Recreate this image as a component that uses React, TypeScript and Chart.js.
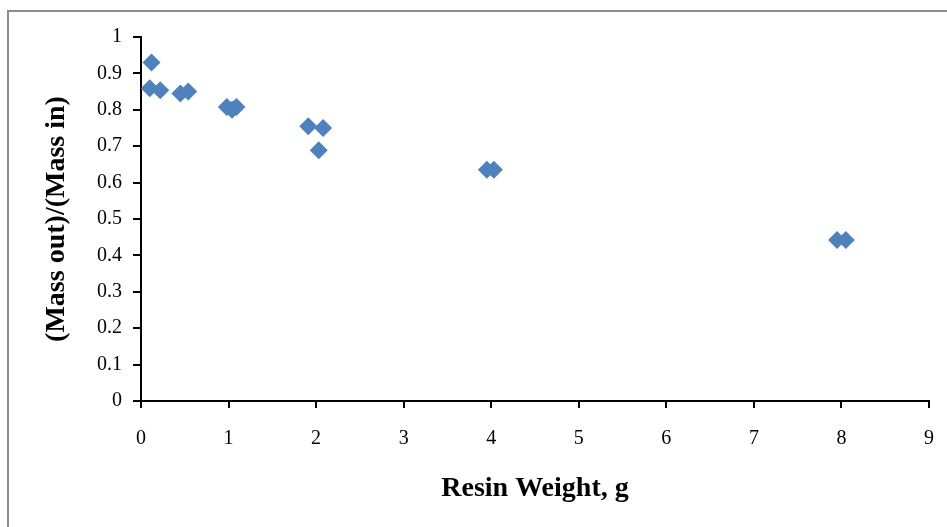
import React, { useEffect, useRef } from "react";
import { Chart, registerables } from "chart.js";

Chart.register(...registerables);

const resinWeight = [0.12, 0.1, 0.22, 0.45, 0.54, 0.98, 1.09, 1.04, 1.91, 2.08, 2.03, 3.95, 4.03, 7.95, 8.05];
const massRatio = [0.93, 0.859, 0.854, 0.845, 0.85, 0.808, 0.808, 0.8, 0.755, 0.75, 0.689, 0.635, 0.635, 0.442, 0.442];
const xTickLabels = ["0", "1", "2", "3", "4", "5", "6", "7", "8", "9"];
const yTickLabels = ["0", "0.1", "0.2", "0.3", "0.4", "0.5", "0.6", "0.7", "0.8", "0.9", "1"];
const xTitle = "Resin Weight, g";
const yTitle = "(Mass out)/(Mass in)";

const W = 947;
const H = 527;
const FONT = "'Liberation Serif', 'Times New Roman', serif";

const framePlugin = {
  id: "frame",
  beforeDraw(chart: any) {
    const ctx = chart.ctx;
    ctx.save();
    ctx.fillStyle = "#ffffff";
    ctx.fillRect(0, 0, chart.width, chart.height);
    ctx.strokeStyle = "#8c8c8c";
    ctx.lineWidth = 2;
    ctx.beginPath();
    ctx.moveTo(8, chart.height);
    ctx.lineTo(8, 11);
    ctx.lineTo(chart.width, 11);
    ctx.stroke();
    ctx.restore();
  },
};

export default function App() {
  const ref = useRef<HTMLCanvasElement | null>(null);
  useEffect(() => {
    if (!ref.current) return;
    const chart = new Chart(ref.current, {
      type: "scatter",
      data: {
        datasets: [
          {
            data: resinWeight.map((x, i) => ({ x, y: massRatio[i] })),
            pointStyle: "rectRot",
            pointRadius: 9,
            pointHoverRadius: 9,
            backgroundColor: "#4F81BD",
            borderColor: "#4F81BD",
            borderWidth: 0,
          },
        ],
      },
      options: {
        responsive: false,
        animation: false,
        layout: { padding: { top: 37, right: 18, left: 0, bottom: 0 } },
        plugins: { legend: { display: false }, tooltip: { enabled: false } },
        scales: {
          x: {
            type: "linear",
            min: 0,
            max: 9,
            afterFit: (axis: any) => {
              axis.height = H - 401;
              axis.paddingLeft = 0;
              axis.paddingRight = 0;
            },
            ticks: {
              stepSize: 1,
              color: "#000",
              padding: 19,
              font: { family: FONT, size: 20 },
              callback: (_v: any, i: number) => xTickLabels[i],
            },
            grid: { drawOnChartArea: false, drawTicks: true, tickLength: 7, color: "#000", lineWidth: 2 },
            border: { display: true, color: "#000", width: 2 },
            title: {
              display: true,
              text: xTitle,
              color: "#000",
              font: { family: FONT, size: 28, weight: "bold" },
              padding: { top: 0, bottom: 21 },
            },
          },
          y: {
            type: "linear",
            min: 0,
            max: 1,
            afterFit: (axis: any) => {
              axis.width = 141;
              axis.paddingTop = 0;
              axis.paddingBottom = 0;
            },
            ticks: {
              stepSize: 0.1,
              color: "#000",
              padding: 11,
              font: { family: FONT, size: 20 },
              callback: (_v: any, i: number) => yTickLabels[i],
            },
            grid: { drawOnChartArea: false, drawTicks: true, tickLength: 8, color: "#000", lineWidth: 2 },
            border: { display: true, color: "#000", width: 2 },
            title: {
              display: true,
              text: yTitle,
              color: "#000",
              font: { family: FONT, size: 28, weight: "bold" },
              padding: { top: 40, bottom: 0 },
            },
          },
        },
      },
      plugins: [framePlugin],
    });
    return () => chart.destroy();
  }, []);
  return (
    <div style={{ position: "fixed", left: 0, top: 0, width: W, height: H, overflow: "hidden" }}>
      <canvas ref={ref} width={W} height={H} style={{ display: "block", width: W, height: H }} />
    </div>
  );
}
